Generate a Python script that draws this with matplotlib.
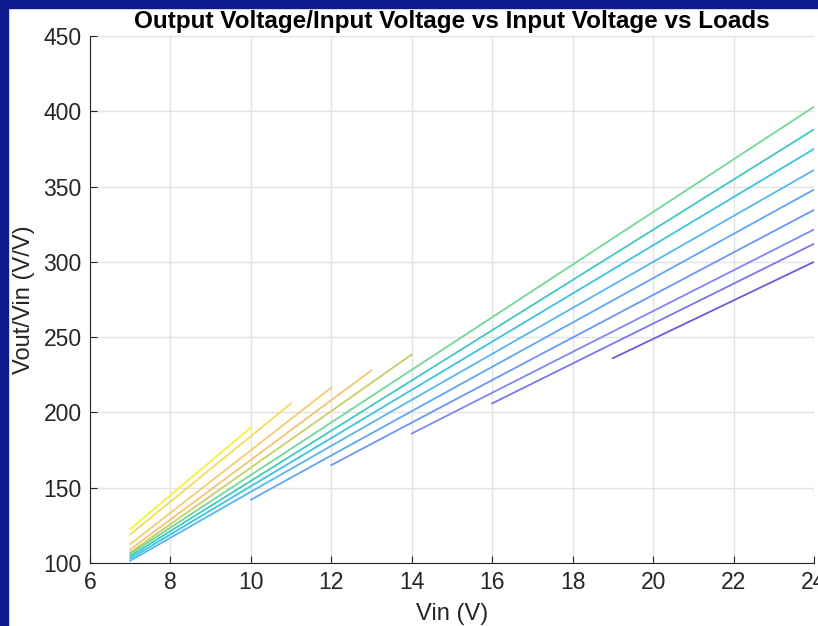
import matplotlib.pyplot as plt
from matplotlib.patches import Rectangle

# each load curve: Vin start/end and Vout/Vin at those points
vin_start = [7, 7, 7, 7, 7, 7, 7, 7, 7, 10, 12, 14, 16, 19]
vin_end = [10, 11, 12, 13, 14, 24, 24, 24, 24, 24, 24, 24, 24, 24]
gain_start = [122.5, 119.0, 112.5, 109.0, 107.0, 106.0, 104.5, 103.0, 101.5,
              142.0, 165.0, 186.0, 206.0, 236.0]
gain_end = [190.0, 206.0, 216.5, 228.0, 238.5, 403.0, 388.0, 375.0, 361.0,
            348.0, 334.5, 321.5, 312.0, 300.0]
colors = ['#f6f03c', '#f5dc55', '#f7cc70', '#f3c473', '#c9cf62', '#72d898',
          '#3fc9c0', '#3cc3e2', '#58b6ef', '#5fa6f8', '#6b95f8', '#7d87f5',
          '#7a76ee', '#6c5be0']

plt.rcParams['font.family'] = ['Liberation Sans', 'DejaVu Sans']

fig = plt.figure(figsize=(8.18, 6.26), dpi=100)
fig.patch.set_facecolor('white')
navy = '#0e1b8e'
fig.add_artist(Rectangle((0, 0), 8 / 818, 1, transform=fig.transFigure, color=navy, zorder=10))
fig.add_artist(Rectangle((0, 1 - 8 / 626), 1, 8 / 626, transform=fig.transFigure, color=navy, zorder=10))

ax = fig.add_axes([90 / 818, 1 - 563 / 626, (814 - 90) / 818, (563 - 36) / 626])

for i in range(len(vin_start)):
    ax.plot([vin_start[i], vin_end[i]], [gain_start[i], gain_end[i]],
            color=colors[i], lw=1.3)

ax.set_xlim(6, 24)
ax.set_ylim(100, 450)
ax.set_xticks(range(6, 25, 2))
ax.set_yticks(range(100, 451, 50))
ax.grid(True, color='#e3e3e3', lw=1)
ax.set_axisbelow(True)
for s in ['top', 'right']:
    ax.spines[s].set_visible(False)
for s in ['left', 'bottom']:
    ax.spines[s].set_color('#262626')
ax.tick_params(direction='in', length=5, labelsize=16.5, colors='#262626', pad=6)

ax.set_xlabel('Vin (V)', fontsize=17, color='#262626', labelpad=6)
ax.set_ylabel('Vout/Vin (V/V)', fontsize=17, color='#262626', labelpad=6)
ax.set_title('Output Voltage/Input Voltage vs Input Voltage vs Loads',
             fontsize=17.5, fontweight='bold', pad=6)

fig.savefig('out.png', dpi=100)
